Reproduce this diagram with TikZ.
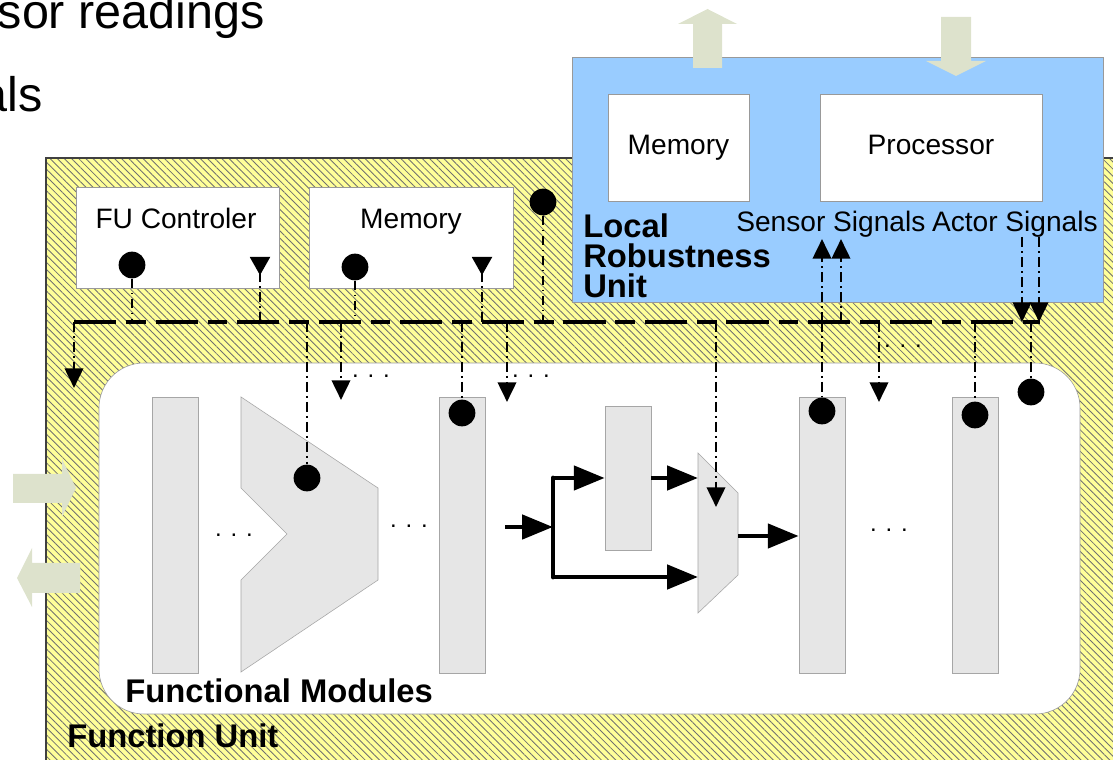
\documentclass[tikz,border=0pt]{standalone}
\usepackage{fontspec}
\setmainfont{Liberation Sans}
\usetikzlibrary{arrows.meta,patterns.meta,positioning}

\definecolor{fuyellow}{HTML}{FFFF99}
\definecolor{lrublue}{HTML}{99CCFF}
\definecolor{modgray}{HTML}{E6E6E6}
\definecolor{blkarrow}{HTML}{DDE2CC}
\definecolor{hatchgray}{HTML}{707070}

\tikzset{
  box/.style={draw=black!40, fill=white, inner sep=0pt},
  module/.style={draw=black!35, fill=modgray, inner sep=0pt, minimum width=1.15cm},
  blob/.style={circle, fill=black, inner sep=0pt, minimum size=19pt},
  txt/.style={font=\fontsize{20}{24}\selectfont, inner sep=0pt},
  heading/.style={font=\fontsize{23.3}{21.6}\selectfont\bfseries, inner sep=0pt, align=left},
  more/.style={font=\fontsize{17}{20}\selectfont, inner sep=0pt, anchor=base},
  sig/.style={line width=2.1pt, dash pattern=on 7pt off 3pt on 1.2pt off 3pt},
  sigto/.style={sig, -{Triangle[length=14pt,width=13pt]}},
  sigin/.style={sig, -{Triangle[reversed,length=13pt,width=14pt]}},
  bus/.style={line width=2.8pt, dash pattern=on 30pt off 7pt on 14pt off 7pt},
  flow/.style={line width=3.5pt, -{Triangle[length=22pt,width=17pt]}},
}

\begin{document}
\begin{tikzpicture}[x=0.025cm, y=-0.025cm]
  \useasboundingbox (0,0) rectangle (1113,760);

  % slide text behind the figure
  \node[font=\fontsize{34.5}{40}\selectfont, inner sep=0pt, anchor=base east] (readings) at (265,29) {sor readings};
  \node[font=\fontsize{34.5}{40}\selectfont, inner sep=0pt, anchor=base east] (signals) at (43,112) {als};

  % function unit
  \fill[fuyellow] (46,158) rectangle (1130,780);
  \path[pattern={Lines[angle=-45,distance=3.6pt,line width=0.6pt]}, pattern color=hatchgray] (46,158) rectangle (1130,780);
  \draw[black!75, line width=0.8pt] (46,780) -- (46,158) -- (1130,158);
  \draw[black!40, fill=white, rounded corners=32pt] (99,363) rectangle (1080,714);

  % local robustness unit
  \node[draw=black!40, fill=lrublue, inner sep=0pt, minimum width=13.275cm, minimum height=6.125cm] (lru) at (837.5,179.5) {};
  \node[box, txt, text height=14.6pt, text depth=4.2pt, minimum width=3.525cm, minimum height=2.675cm] (lrumem) at (678.5,147.5) {Memory};
  \node[box, txt, text height=14.6pt, text depth=4.2pt, minimum width=5.55cm, minimum height=2.675cm] (proc) at (931,147.5) {Processor};
  \node[heading, anchor=base west] (lrulbl) at (583,298) {Local\\Robustness\\Unit};
  \node[txt, anchor=base west] (senslbl) at (736,232) {Sensor Signals};
  \node[txt, anchor=base east] (actlbl) at (1098,232) {Actor Signals};

  % external data paths
  \fill[blkarrow] (693,68) -- (693,24) -- (678,24) -- (707.5,9) -- (737,24) -- (722,24) -- (722,68) -- cycle;
  \fill[blkarrow] (941,17) -- (971,17) -- (971,61) -- (986,61) -- (956,76) -- (926,61) -- (941,61) -- cycle;
  \fill[blkarrow] (13,474) -- (62,474) -- (62,459) -- (76,488) -- (62,517) -- (62,503) -- (13,503) -- cycle;
  \fill[blkarrow] (80,563) -- (32,563) -- (32,548) -- (17,578) -- (32,607) -- (32,593) -- (80,593) -- cycle;

  % controller and memory of the function unit
  \node[box, minimum width=5.075cm, minimum height=2.525cm] (fuctrl) at (177.5,237.5) {};
  \node[box, minimum width=5.1cm, minimum height=2.525cm] (fumem) at (411,237.5) {};
  \node[txt, anchor=base] (fuctrllbl) at (176,229) {FU Controler};
  \node[txt, anchor=base] (fumemlbl) at (411,229) {Memory};

  % functional modules
  \node[module, minimum height=6.9cm] (m1) at (175.5,535) {};
  \filldraw[fill=modgray, draw=black!35] (241,397) -- (378,488) -- (378,580) -- (241,672)
    -- (241,580) -- (287,534) -- (241,488) -- cycle;
  \node[module, minimum height=6.9cm] (m3) at (462,535) {};
  \node[module, minimum height=3.6cm] (reg) at (628,478) {};
  \filldraw[fill=modgray, draw=black!35] (698,453) -- (738,493) -- (738,575) -- (698,613) -- cycle;
  \node[module, minimum height=6.9cm] (m4) at (822,535.5) {};
  \node[module, minimum height=6.9cm] (m5) at (975,535.5) {};

  \node[more] (dots1) at (234,537) {. . .};
  \node[more] (dots2) at (409,528) {. . .};
  \node[more] (dots3) at (889,532) {. . .};
  \node[more] (dots4) at (371,378) {. . .};
  \node[more] (dots5) at (531,378) {. . .};
  \node[more] (dots6) at (903,348) {. . .};

  \node[heading, anchor=base west] (fmlbl) at (125,702) {Functional Modules};
  \node[heading, anchor=base west] (fulbl) at (67,747) {Function Unit};

  % data flow
  \coordinate (in) at (505,527);
  \coordinate (split) at (553,527);
  \coordinate (muxa) at (698,478);
  \coordinate (muxb) at (698,577);
  \coordinate (muxout) at (738,536);
  \draw[flow] (in) -- (split);
  \draw[line width=3.5pt, line cap=round] (split |- reg.west) -- (split |- muxb);
  \draw[flow] (split |- reg.west) -- (reg.west);
  \draw[flow] (split |- muxb) -- (muxb);
  \draw[flow] (reg.east) -- (muxa);
  \draw[flow] (muxout) -- (m4.west |- muxout);

  % probes
  \node[blob] (dfu) at (132,265) {};
  \node[blob] (dmem) at (355,267) {};
  \node[blob] (dtop) at (543,202) {};
  \node[blob] (dtrap) at (307,478) {};
  \node[blob] (dm3) at (462,413) {};
  \node[blob] (dm4) at (822,411) {};
  \node[blob] (dm5) at (975,415) {};
  \node[blob] (dend) at (1031,392) {};
  \coordinate (tfu) at (260,257);
  \coordinate (tmem) at (482,257);

  % monitoring bus
  \coordinate (busL) at (74,322);
  \coordinate (busR) at (1040,322);
  \draw[bus] (busL) -- (busR);

  \draw[sig] (dfu) -- (dfu |- busL);
  \draw[sig] (dmem) -- (dmem |- busL);
  \draw[sig] (dtop) -- (dtop |- busL);
  \draw[sigin] (tfu |- busL) -- (tfu);
  \draw[sigin] (tmem |- busL) -- (tmem);

  \coordinate (outa) at (74,388);
  \coordinate (outb) at (341,400);
  \coordinate (outc) at (507,402);
  \coordinate (outd) at (879,402);
  \coordinate (sel) at (716,507);
  \draw[sigto] (busL) -- (outa);
  \draw[sigto] (outb |- busL) -- (outb);
  \draw[sigto] (outc |- busL) -- (outc);
  \draw[sigto] (outd |- busL) -- (outd);
  \draw[sigto] (sel |- busL) -- (sel);

  \draw[sig] (dtrap |- busL) -- (dtrap);
  \draw[sig] (dm3 |- busL) -- (dm3);
  \draw[sig] (dm4 |- busL) -- (dm4);
  \draw[sig] (dm5 |- busL) -- (dm5);
  \draw[sig] (dend |- busL) -- (dend);

  % to and from the local robustness unit
  \coordinate (sens1) at (822,239);
  \coordinate (sens2) at (841,239);
  \coordinate (act1) at (1022,237);
  \coordinate (act2) at (1039,237);
  \draw[sigto] (sens1 |- busL) -- (sens1);
  \draw[sigto] (sens2 |- busL) -- (sens2);
  \draw[sigto] (act1) -- (act1 |- busL);
  \draw[sigto] (act2) -- (act2 |- busL);

\end{tikzpicture}
\end{document}
